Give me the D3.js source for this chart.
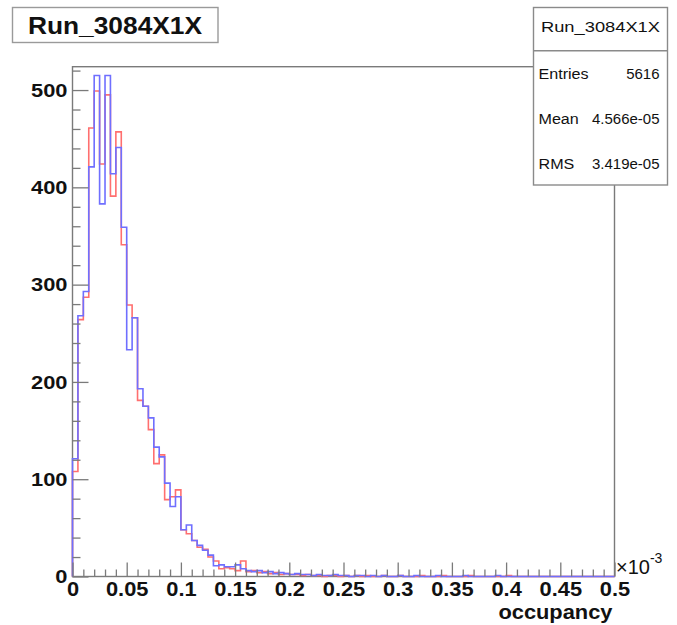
<!DOCTYPE html>
<html>
<head>
<meta charset="utf-8">
<script src="https://cdn.jsdelivr.net/npm/d3@7"></script>
<style>
  body { margin: 0; background: #fff; }
  svg { display: block; }
  text { font-family: "Liberation Sans", Arial, Helvetica, sans-serif; }
</style>
</head>
<body>
<svg id="chart" width="677" height="625"></svg>
<script>
// ---- histogram definition ----
const histTitle = "Run_3084X1X";
const xTitle = "occupancy";
const xMin = 0, xMax = 0.5, binWidth = 0.005;   // 100 bins, axis in units of 1e-3
const yMax = 524;

// counts per bin (first histogram, red)
const redCounts = [
  108, 264, 287, 461, 499, 424, 495, 391, 457, 341,
  279, 266, 181, 175, 151, 116, 125,  79,  82,  89,
   48,  44,  37,  30,  28,  20,  16,   8,   9,   8,
    6,  16,   5,   6,   4,   5,   3,   4,   2,   3,
    2,   2,   1,   2,   1,   1,   0,   1,   1,   0,
    1,   0,   1,   0,   1,   0,   0,   1,   0,   0,
    1,   0,   0,   0,   1,   0,   0,   0,   1,   0,
    0,   0,   0,   1,   0,   0,   0,   0,   0,   0,
    1,   0,   0,   0,   0,   0,   0,   0,   0,   0,
    0,   0,   0,   0,   0,   0,   0,   0,   0,   0
];
// counts per bin (second histogram, blue)
const blueCounts = [
  121, 268, 293, 421, 515, 383, 515, 414, 441, 359,
  233, 266, 193, 175, 163, 133, 123,  96,  72,  82,
   48,  53,  37,  32,  27,  22,  11,  12,  10,  10,
   12,   8,   6,   5,   6,   4,   5,   3,   4,   3,
    2,   3,   2,   2,   1,   2,   1,   1,   2,   1,
    1,   0,   1,   1,   0,   1,   0,   1,   0,   0,
    1,   0,   0,   1,   0,   0,   0,   1,   0,   0,
    0,   0,   1,   0,   0,   0,   0,   0,   1,   0,
    0,   0,   0,   0,   0,   0,   0,   0,   0,   0,
    0,   0,   0,   0,   0,   0,   0,   0,   0,   0
];

const xTickValues = [0, 0.05, 0.1, 0.15, 0.2, 0.25, 0.3, 0.35, 0.4, 0.45, 0.5];
const xTickLabels = ["0", "0.05", "0.1", "0.15", "0.2", "0.25", "0.3", "0.35", "0.4", "0.45", "0.5"];
const yTickValues = [0, 100, 200, 300, 400, 500];
const yTickLabels = ["0", "100", "200", "300", "400", "500"];
const statNames = ["Entries", "Mean", "RMS"];
const statValues = ["5616", "4.566e-05", "3.419e-05"];

// ---- drawing ----
const svg = d3.select("#chart");
const frame = { left: 72.5, right: 614.5, top: 66.7, bottom: 576.5 };
const axisColor = "#7a7a7a";

const x = d3.scaleLinear().domain([xMin, xMax]).range([frame.left, frame.right]);
const y = d3.scaleLinear().domain([0, yMax]).range([frame.bottom, frame.top]);

// widen glyphs a little, like the wide Helvetica of the original canvas
function stretch(sel, factor) {
  sel.each(function () {
    const w = this.getComputedTextLength();
    d3.select(this).attr("textLength", w * factor).attr("lengthAdjust", "spacingAndGlyphs");
  });
}

// frame box
svg.append("rect")
  .attr("x", frame.left).attr("y", frame.top)
  .attr("width", frame.right - frame.left).attr("height", frame.bottom - frame.top)
  .attr("fill", "none").attr("stroke", axisColor).attr("stroke-width", 1.4);

// histogram outlines
function histPoints(counts) {
  const pts = [[xMin, 0]];
  counts.forEach((c, i) => pts.push([xMin + i * binWidth, c]));
  pts.push([xMin + counts.length * binWidth, counts[counts.length - 1]]);
  pts.push([xMin + counts.length * binWidth, 0]);
  return pts;
}
const stepLine = d3.line()
  .x(d => x(d[0])).y(d => y(d[1]))
  .curve(d3.curveStepAfter);

svg.append("path").datum(histPoints(redCounts))
  .attr("d", stepLine).attr("fill", "none")
  .attr("stroke", "#ff6f6f").attr("stroke-width", 1.6);
svg.append("path").datum(histPoints(blueCounts))
  .attr("d", stepLine).attr("fill", "none")
  .attr("stroke", "#6f6fff").attr("stroke-width", 1.6);

// y axis: major + minor ticks pointing into the frame
const yMinor = d3.range(0, yMax + 1, 20).filter(v => v % 100 !== 0);
const gYMinor = svg.append("g").attr("transform", `translate(${frame.left},0)`)
  .call(d3.axisLeft(y).tickValues(yMinor).tickSizeInner(-8).tickSizeOuter(0).tickFormat(""));
const gY = svg.append("g").attr("transform", `translate(${frame.left},0)`)
  .call(d3.axisLeft(y).tickValues(yTickValues).tickSizeInner(-16).tickSizeOuter(0)
    .tickPadding(5).tickFormat((d, i) => yTickLabels[i]));

// x axis: major + minor ticks pointing into the frame
const xMinor = d3.range(0, 51).map(i => i / 100).filter((v, i) => i % 5 !== 0);
const gXMinor = svg.append("g").attr("transform", `translate(0,${frame.bottom})`)
  .call(d3.axisBottom(x).tickValues(xMinor).tickSizeInner(-7).tickSizeOuter(0).tickFormat(""));
const gX = svg.append("g").attr("transform", `translate(0,${frame.bottom})`)
  .call(d3.axisBottom(x).tickValues(xTickValues).tickSizeInner(-14).tickSizeOuter(0)
    .tickPadding(6).tickFormat((d, i) => xTickLabels[i]));

[gYMinor, gY, gXMinor, gX].forEach(g => {
  g.select(".domain").remove();
  g.selectAll(".tick line").attr("stroke", axisColor).attr("stroke-width", 1.3);
});
gY.selectAll(".tick text")
  .attr("font-size", 19).attr("font-weight", "bold").attr("fill", "#111")
  .attr("font-family", "'Liberation Sans', Arial, sans-serif")
  .call(stretch, 1.15);
gX.selectAll(".tick text")
  .attr("font-size", 19.5).attr("font-weight", "bold").attr("fill", "#111")
  .attr("font-family", "'Liberation Sans', Arial, sans-serif")
  .call(stretch, 1.12);

// axis exponent
const expo = svg.append("text").attr("x", 616).attr("y", 574)
  .attr("font-size", 20).attr("fill", "#111");
expo.append("tspan").text("\u00d710");
expo.append("tspan").attr("dy", -11).attr("font-size", 14).text("-3");

// axis title
svg.append("text").attr("x", frame.right - 2).attr("y", 619)
  .attr("text-anchor", "end").attr("font-size", 19.5).attr("font-weight", "bold")
  .attr("fill", "#111").text(xTitle).call(stretch, 1.12);

// title box
svg.append("rect").attr("x", 12.5).attr("y", 7.5).attr("width", 205.5).attr("height", 35)
  .attr("fill", "#fff").attr("stroke", "#9a9a9a").attr("stroke-width", 1.4);
svg.append("text").attr("x", 115).attr("y", 33.5).attr("text-anchor", "middle")
  .attr("font-size", 23.5).attr("font-weight", "bold").attr("fill", "#111")
  .text(histTitle).call(stretch, 1.12);

// statistics box
const sb = { x: 533.5, y: 7.5, w: 134, h: 177.5 };
svg.append("rect").attr("x", sb.x).attr("y", sb.y).attr("width", sb.w).attr("height", sb.h)
  .attr("fill", "#fff").attr("stroke", "#8a8a8a").attr("stroke-width", 1.4);
svg.append("line").attr("x1", sb.x).attr("x2", sb.x + sb.w).attr("y1", 50.7).attr("y2", 50.7)
  .attr("stroke", "#8a8a8a").attr("stroke-width", 1.4);
svg.append("text").attr("x", sb.x + sb.w / 2).attr("y", 32).attr("text-anchor", "middle")
  .attr("font-size", 15).attr("fill", "#111").text(histTitle).call(stretch, 1.22);

const rowY = d3.scaleLinear().domain([0, 2]).range([78.5, 168.5]);
statNames.forEach((name, i) => {
  svg.append("text").attr("x", sb.x + 5).attr("y", rowY(i))
    .attr("font-size", 14).attr("fill", "#111").text(name).call(stretch, 1.15);
  svg.append("text").attr("x", sb.x + sb.w - 8).attr("y", rowY(i)).attr("text-anchor", "end")
    .attr("font-size", 14).attr("fill", "#111").text(statValues[i]).call(stretch, 1.07);
});
</script>
</body>
</html>
